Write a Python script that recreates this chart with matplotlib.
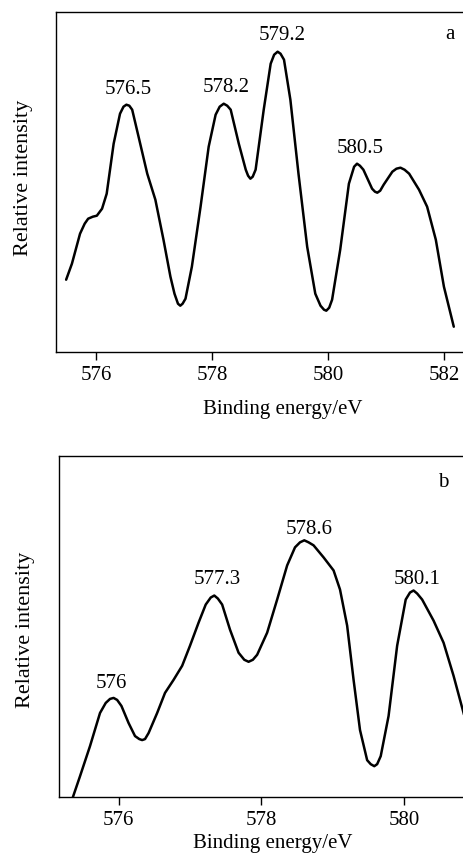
import matplotlib
matplotlib.use("Agg")
import matplotlib.pyplot as plt

plt.rcParams['font.family'] = ['Liberation Serif', 'DejaVu Serif']

# spectrum a
energy_a = [575.48, 575.58, 575.72, 575.80, 575.86, 575.94, 576.01, 576.10, 576.18, 576.30,
            576.41, 576.47, 576.52, 576.57, 576.62, 576.73, 576.88, 577.02, 577.16, 577.28,
            577.35, 577.41, 577.45, 577.49, 577.54, 577.65, 577.80, 577.94, 578.06, 578.13,
            578.20, 578.26, 578.32, 578.46, 578.58, 578.62, 578.66, 578.70, 578.75, 578.89,
            579.01, 579.07, 579.13, 579.18, 579.24, 579.35, 579.49, 579.64, 579.78, 579.87,
            579.93, 579.97, 580.02, 580.07, 580.21, 580.36, 580.45, 580.50, 580.55, 580.61,
            580.76, 580.81, 580.85, 580.90, 580.96, 581.11, 581.18, 581.25, 581.32, 581.40,
            581.57, 581.71, 581.86, 582.00, 582.17]
intens_a = [72, 88, 118, 128, 133, 135, 136, 143, 158, 208,
            238, 245, 247, 246, 242, 215, 178, 152, 112, 75,
            58, 48, 46, 48, 53, 85, 145, 205, 237, 245,
            248, 246, 242, 208, 182, 176, 173, 175, 182, 242,
            288, 297, 300, 298, 292, 252, 178, 105, 58, 46,
            42, 41, 44, 52, 102, 168, 185, 188, 186, 182,
            163, 160, 159, 161, 167, 180, 183, 184, 182, 178,
            162, 145, 112, 65, 25]

# spectrum b
energy_b = [575.35, 575.46, 575.60, 575.74, 575.82, 575.88, 575.93, 575.98, 576.04, 576.14,
            576.23, 576.29, 576.33, 576.37, 576.42, 576.54, 576.65, 576.77, 576.89, 577.00,
            577.12, 577.22, 577.29, 577.34, 577.39, 577.45, 577.56, 577.68, 577.76, 577.82,
            577.88, 577.94, 578.08, 578.22, 578.36, 578.47, 578.54, 578.60, 578.66, 578.73,
            578.87, 579.01, 579.10, 579.20, 579.29, 579.38, 579.48, 579.53, 579.58, 579.62,
            579.67, 579.78, 579.90, 580.02, 580.08, 580.13, 580.18, 580.25, 580.41, 580.55,
            580.69, 580.83, 580.95]
intens_b = [-2, 21, 51, 84, 94, 98, 99, 97, 91, 74,
            61, 58, 57, 58, 64, 84, 104, 117, 131, 151,
            174, 192, 199, 201, 198, 192, 167, 144, 137, 135,
            137, 142, 164, 197, 231, 249, 254, 256, 254, 251,
            239, 226, 207, 171, 117, 67, 37, 33, 31, 33,
            41, 81, 151, 197, 204, 206, 203, 197, 176, 154,
            121, 84, 50]

peaks_a = ["576.5", "578.2", "579.2", "580.5"]
peak_xa = [576.55, 578.24, 579.21, 580.56]
peak_ya = [258, 260, 312, 199]

peaks_b = ["576", "577.3", "578.6", "580.1"]
peak_xb = [575.90, 577.38, 578.67, 580.18]
peak_yb = [109, 212, 262, 212]

W, H = 463, 857
fig = plt.figure(figsize=(W / 100, H / 100), dpi=100)

ax1 = fig.add_axes([55.7 / W, (H - 351.7) / H, (470 - 55.7) / W, 340 / H])
ax2 = fig.add_axes([59.3 / W, (H - 797.3) / H, (470 - 59.3) / W, 341.3 / H])

panels = [
    (ax1, energy_a, intens_a, peaks_a, peak_xa, peak_ya, "a", (575.30, 582.45), [576, 578, 580, 582], (582.10, 313)),
    (ax2, energy_b, intens_b, peaks_b, peak_xb, peak_yb, "b", (575.17, 580.92), [576, 578, 580], (580.55, 309)),
]

for ax, ex, iy, labs, lx, ly, tag, xl, ticks, tagpos in panels:
    ax.plot(ex, iy, color='black', lw=1.8, solid_joinstyle='round', solid_capstyle='round')
    ax.set_xlim(*xl)
    ax.set_ylim(0, 340)
    ax.set_xticks(ticks)
    ax.set_xticklabels([str(t) for t in ticks])
    ax.set_yticks([])
    ax.tick_params(axis='x', direction='out', length=6, width=1, labelsize=15, pad=4)
    for s in ax.spines.values():
        s.set_linewidth(1.0)
    for t, x, y in zip(labs, lx, ly):
        ax.text(x, y, t, ha='center', va='baseline', fontsize=15)
    ax.text(tagpos[0], tagpos[1], tag, ha='center', va='baseline', fontsize=15)
    ax.set_ylabel("Relative intensity", fontsize=16)
    ax.set_xlabel("Binding energy/eV", fontsize=15)

ax1.xaxis.set_label_coords((282.5 - 55.7) / (470 - 55.7), (351.7 - 400) / 340)
ax2.xaxis.set_label_coords((273 - 59.3) / (470 - 59.3), (797.3 - 834) / 341.3)
ax1.yaxis.set_label_coords(-(55.7 - 33) / (470 - 55.7), 0.51)
ax2.yaxis.set_label_coords(-(59.3 - 35) / (470 - 59.3), 0.49)

fig.savefig("out.png", dpi=100)
